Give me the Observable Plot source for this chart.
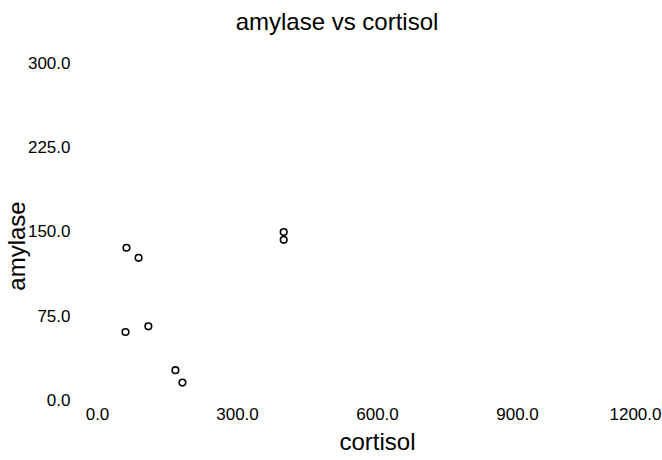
<!DOCTYPE html>
<html>
<head>
<meta charset="utf-8">
<script src="https://cdn.jsdelivr.net/npm/d3@7"></script>
<script src="https://cdn.jsdelivr.net/npm/@observablehq/plot@0.6"></script>
<style>
  html, body { margin: 0; padding: 0; background: #fff; }
  body { width: 662px; height: 460px; overflow: hidden; font-family: "Liberation Sans", Arial, sans-serif; }
  #title { height: 40px; line-height: 44px; text-align: center; font-size: 24px; color: #000; padding-left: 12px; }
</style>
</head>
<body>
<div id="title">amylase vs cortisol</div>
<div id="chart"></div>
<script>
const cortisol = [62, 88, 60, 109, 167, 182, 399, 399];
const amylase  = [136, 127, 61, 66, 27, 16, 150, 143];
const xTicks = [0, 300, 600, 900, 1200];
const yTicks = [0, 75, 150, 225, 300];
const xLabel = "cortisol";
const yLabel = "amylase";

const data = cortisol.map((c, i) => ({cortisol: c, amylase: amylase[i]}));

const plot = Plot.plot({
  width: 662,
  height: 420,
  marginLeft: 97,
  marginRight: 5,
  marginTop: 23,
  marginBottom: 60,
  style: {fontFamily: "Liberation Sans, Arial, sans-serif", color: "#000", background: "#fff"},
  x: {domain: [0, 1200], ticks: xTicks, tickFormat: d3.format(".1f")},
  y: {domain: [0, 300], ticks: yTicks, tickFormat: d3.format(".1f")},
  marks: [
    Plot.axisX({ticks: xTicks, tickFormat: d3.format(".1f"), tickSize: 0, tickPadding: 7, fontSize: 17, label: null}),
    Plot.axisY({ticks: yTicks, tickFormat: d3.format(".1f"), tickSize: 0, tickPadding: 27, fontSize: 17, label: null}),
    Plot.text([xLabel], {text: d => d, frameAnchor: "bottom", lineAnchor: "middle", dy: 42, fontSize: 24, fill: "#000"}),
    Plot.text([yLabel], {text: d => d, frameAnchor: "left", textAnchor: "middle", rotate: -90, dx: -80, dy: 14, fontSize: 24, fill: "#000"}),
    Plot.dot(data, {x: "cortisol", y: "amylase", r: 3.3, stroke: "#000", strokeWidth: 1.6, fill: "none"})
  ]
});
document.getElementById("chart").appendChild(plot);

const xt = plot.querySelectorAll('g[aria-label="x-axis tick label"] text');
if (xt.length) {
  const last = xt[xt.length - 1];
  last.setAttribute("text-anchor", "end");
  last.setAttribute("dx", "4");
}
</script>
</body>
</html>
